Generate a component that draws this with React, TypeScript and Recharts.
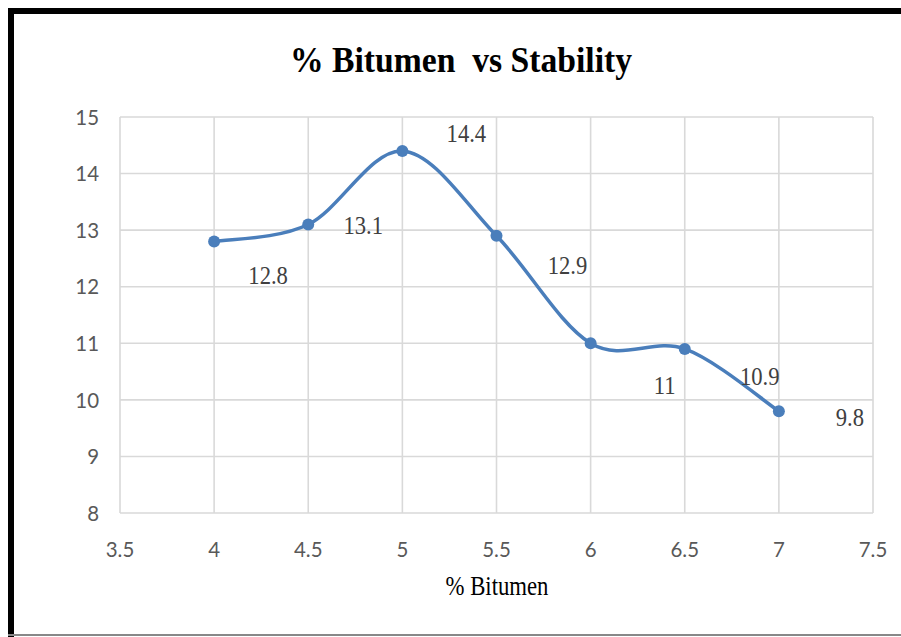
import React from "react";
import { LineChart, Line, XAxis, YAxis, CartesianGrid } from "recharts";

// ---- data ----
const bitumen = [4, 4.5, 5, 5.5, 6, 6.5, 7];
const stability = [12.8, 13.1, 14.4, 12.9, 11, 10.9, 9.8];
const xTicks = [3.5, 4, 4.5, 5, 5.5, 6, 6.5, 7, 7.5];
const yTicks = [8, 9, 10, 11, 12, 13, 14, 15];
const chartTitle = "% Bitumen  vs Stability";
const xAxisTitle = "% Bitumen";

// label placement (style/layout, px offsets from each point)
const LABEL_OFFSETS: [number, number][] = [
  [54, 33],
  [55, 0],
  [64, -18],
  [71, 29],
  [74, 42],
  [75, 27],
  [71, 6],
];

const data = bitumen.map((x, i) => ({ x, y: stability[i] }));

const W = 893;
const H = 629;
const BLUE = "#4a7ebb";

// Excel-like smoothed curve (Catmull-Rom style bezier)
function excelSmooth(context: any) {
  let pts: number[][] = [];
  return {
    areaStart() {},
    areaEnd() {},
    lineStart() {
      pts = [];
    },
    lineEnd() {
      const n = pts.length;
      if (!n) return;
      context.moveTo(pts[0][0], pts[0][1]);
      for (let i = 0; i < n - 1; i++) {
        const p0 = pts[Math.max(i - 1, 0)];
        const p1 = pts[i];
        const p2 = pts[i + 1];
        const p3 = pts[Math.min(i + 2, n - 1)];
        const c1x = p1[0] + (p2[0] - p0[0]) / 6;
        const c1y = p1[1] + (p2[1] - p0[1]) / 6;
        const c2x = p2[0] - (p3[0] - p1[0]) / 6;
        const c2y = p2[1] - (p3[1] - p1[1]) / 6;
        context.bezierCurveTo(c1x, c1y, c2x, c2y, p2[0], p2[1]);
      }
    },
    point(x: number, y: number) {
      pts.push([+x, +y]);
    },
  };
}

const YTick = (props: any) => {
  const { x, y, payload } = props;
  return (
    <text
      transform={`translate(${x},${y}) scale(0.93,1)`}
      textAnchor="end"
      dy="0.35em"
      fill="#595959"
      fontSize={22}
      fontFamily="Lato, 'Open Sans', sans-serif"
    >
      {payload.value}
    </text>
  );
};

const XTick = (props: any) => {
  const { x, y, payload } = props;
  return (
    <text
      transform={`translate(${x},${y}) scale(0.93,1)`}
      textAnchor="middle"
      dy="0.71em"
      fill="#595959"
      fontSize={22}
      fontFamily="Lato, 'Open Sans', sans-serif"
    >
      {payload.value}
    </text>
  );
};

const PointLabel = (props: any) => {
  const { x, y, value, index } = props;
  const off = LABEL_OFFSETS[index] || [0, -15];
  return (
    <text
      transform={`translate(${x + off[0]},${y + off[1]}) scale(0.87,1)`}
      textAnchor="middle"
      dy="0.35em"
      fill="#404040"
      fontSize={26}
      fontFamily="'Liberation Serif', 'Times New Roman', serif"
    >
      {value}
    </text>
  );
};

export default function App() {
  return (
    <div
      style={{
        position: "fixed",
        left: 0,
        top: 0,
        width: 901,
        height: 637,
        background: "#fff",
        overflow: "hidden",
      }}
    >
      <div style={{ position: "absolute", left: 8, top: 8, width: W, height: H }}>
        <LineChart
          width={W}
          height={H}
          data={data}
          margin={{ top: 109, right: 28, left: 52, bottom: 84 }}
        >
          <CartesianGrid stroke="#d9d9d9" strokeWidth={1.6} />
          <XAxis
            type="number"
            dataKey="x"
            domain={[3.5, 7.5]}
            ticks={xTicks}
            interval={0}
            height={40}
            axisLine={false}
            tickLine={false}
            tickSize={0}
            tickMargin={28}
            tick={<XTick />}
            allowDataOverflow
          />
          <YAxis
            type="number"
            domain={[8, 15]}
            ticks={yTicks}
            interval={0}
            width={60}
            axisLine={false}
            tickLine={false}
            tickSize={0}
            tickMargin={21}
            tick={<YTick />}
            allowDataOverflow
          />
          <Line
            dataKey="y"
            type={excelSmooth as any}
            stroke={BLUE}
            strokeWidth={3.5}
            dot={{ r: 6, fill: BLUE, stroke: BLUE, strokeWidth: 0 }}
            activeDot={false}
            label={<PointLabel />}
            isAnimationActive={false}
          />
        </LineChart>
        <svg
          width={W}
          height={H}
          style={{ position: "absolute", left: 0, top: 0, pointerEvents: "none" }}
        >
          <text
            x={453}
            y={64}
            textAnchor="middle"
            fontSize={36}
            fontWeight="bold"
            fontFamily="'Liberation Serif', 'Times New Roman', serif"
            fill="#000"
            textLength={342}
            lengthAdjust="spacingAndGlyphs"
            style={{ whiteSpace: "pre" }}
          >
            {chartTitle}
          </text>
          <text
            x={489}
            y={587}
            textAnchor="middle"
            fontSize={27}
            fontFamily="'Liberation Serif', 'Times New Roman', serif"
            fill="#000"
            textLength={103}
            lengthAdjust="spacingAndGlyphs"
          >
            {xAxisTitle}
          </text>
        </svg>
      </div>
      {/* frame */}
      <div style={{ position: "absolute", left: 8, top: 8, width: 6, height: 629, background: "#000" }} />
      <div style={{ position: "absolute", left: 8, top: 8, width: 893, height: 6, background: "#000" }} />
      <div style={{ position: "absolute", left: 8, top: 634, width: 893, height: 2, background: "#888" }} />
    </div>
  );
}
